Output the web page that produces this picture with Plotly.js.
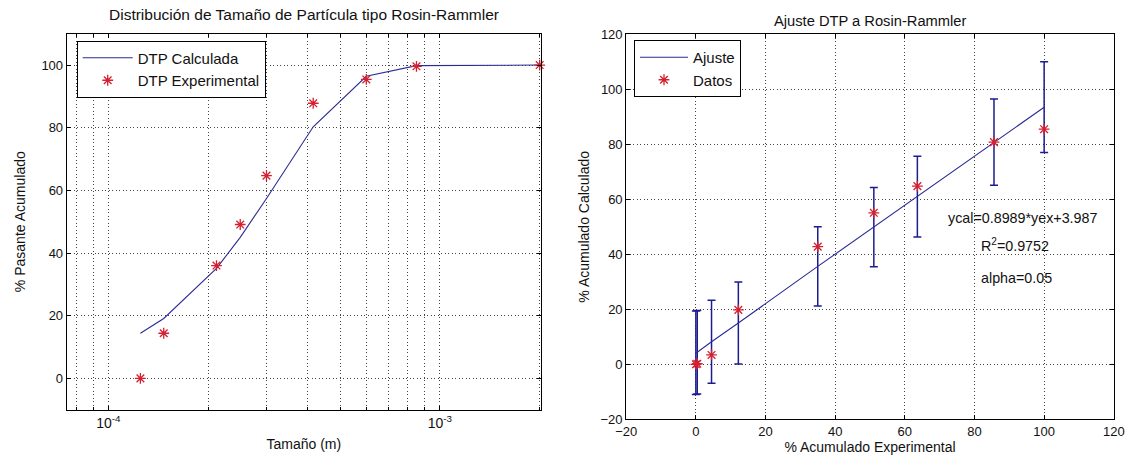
<!DOCTYPE html>
<html><head><meta charset="utf-8">
<script src="https://cdn.plot.ly/plotly-3.0.1.min.js"></script>
<style>html,body{margin:0;padding:0;background:#fff}#chart{width:1127px;height:463px}</style>
</head><body><div id="chart"></div>
<script>
// Left chart: particle size distribution
const tamano = [1.25e-4, 1.47e-4, 2.12e-4, 2.5e-4, 3.0e-4, 4.15e-4, 6.0e-4, 8.5e-4, 2.0e-3];
const pasanteCalc = [14.4, 19.1, 35.1, 45.0, 57.4, 80.3, 96.4, 99.8, 100];
const pasanteExp = [0, 14.4, 36.0, 49.1, 64.7, 87.8, 95.4, 99.6, 100];
const logTickVals = [1e-4, 1e-3];
const logTickText = ['10<sup>-4</sup>', '10<sup>-3</sup>'];
const logMinorVals = [8e-5, 9e-5, 2e-4, 3e-4, 4e-4, 5e-4, 6e-4, 7e-4, 8e-4, 9e-4, 2e-3];
const leftYTicks = [0, 20, 40, 60, 80, 100];

// Right chart: fit
const acumExp = [0, 0.4, 4.5, 12.2, 35.0, 51.1, 63.6, 85.6, 100];
const acumDatos = [0, 0.2, 3.4, 19.8, 42.8, 55.1, 64.8, 80.8, 85.5];
const acumAjuste = [4.2, 4.4, 8.2, 15.0, 35.6, 49.9, 61.0, 80.8, 93.5];
const errAjuste = [15.2, 15.2, 15.1, 14.9, 14.4, 14.4, 14.7, 15.7, 16.5];
const rightTicks = [-20, 0, 20, 40, 60, 80, 100, 120];

const FONT = 'Liberation Sans, Arial, Helvetica, sans-serif';
const LINE = '#2b2b95';
const STAR = '#d42030';
const ERR = '#1c1c90';
const GRID = '#444';
const DOT = '1px,2.5px';
const W = 1127, H = 463;

const traces = [
  {x: tamano, y: pasanteCalc, type: 'scatter', mode: 'lines', name: 'DTP Calculada',
   line: {color: LINE, width: 1.1}, xaxis: 'x', yaxis: 'y', legend: 'legend'},
  {x: tamano, y: pasanteExp, type: 'scatter', mode: 'markers', name: 'DTP Experimental',
   marker: {symbol: 'asterisk-open', size: 9, color: STAR, line: {color: STAR, width: 1.3}},
   cliponaxis: false, xaxis: 'x', yaxis: 'y', legend: 'legend'},
  {x: acumExp, y: acumAjuste, type: 'scatter', mode: 'markers', showlegend: false, hoverinfo: 'skip',
   marker: {size: 1, color: 'rgba(0,0,0,0)'},
   error_y: {type: 'data', array: errAjuste, symmetric: true, color: ERR, thickness: 1.5, width: 4},
   xaxis: 'x2', yaxis: 'y2'},
  {x: acumExp, y: acumAjuste, type: 'scatter', mode: 'lines', name: 'Ajuste',
   line: {color: LINE, width: 1.1}, xaxis: 'x2', yaxis: 'y2', legend: 'legend2'},
  {x: acumExp, y: acumDatos, type: 'scatter', mode: 'markers', name: 'Datos',
   marker: {symbol: 'asterisk-open', size: 9, color: STAR, line: {color: STAR, width: 1.3}},
   xaxis: 'x2', yaxis: 'y2', legend: 'legend2'}
];

const axBase = {
  showline: true, linecolor: '#000', linewidth: 1, mirror: 'ticks',
  ticks: 'inside', ticklen: 4, tickcolor: '#000', tickwidth: 1,
  showgrid: true, gridcolor: GRID, gridwidth: 1, griddash: DOT,
  zeroline: false, tickfont: {family: FONT, size: 13, color: '#111'},
  fixedrange: true
};
const titleFont = {family: FONT, size: 14, color: '#111'};

const layout = {
  width: W, height: H,
  margin: {l: 0, r: 0, t: 0, b: 0},
  paper_bgcolor: '#fff', plot_bgcolor: '#fff',
  font: {family: FONT, size: 13, color: '#111'},
  xaxis: Object.assign({}, axBase, {
    type: 'log', domain: [66.7 / W, 541 / W],
    range: [-4.1254, -2.6950],
    tickmode: 'array', tickvals: logTickVals, ticktext: logTickText,
    tickfont: {family: FONT, size: 14, color: '#111'},
    minor: {tickmode: 'array', tickvals: logMinorVals, ticks: 'inside', ticklen: 3, tickcolor: '#000',
            showgrid: true, gridcolor: GRID, gridwidth: 1, griddash: DOT},
    title: {text: 'Tamaño (m)', font: titleFont, standoff: 9},
    anchor: 'y'
  }),
  yaxis: Object.assign({}, axBase, {
    domain: [1 - 409.7 / H, 1 - 33.7 / H], range: [-10, 110],
    tickmode: 'array', tickvals: leftYTicks,
    title: {text: '% Pasante Acumulado', font: titleFont, standoff: 12},
    anchor: 'x'
  }),
  xaxis2: Object.assign({}, axBase, {
    domain: [626.2 / W, 1113.8 / W], range: [-20, 120],
    tickmode: 'array', tickvals: rightTicks,
    title: {text: '% Acumulado Experimental', font: titleFont, standoff: 1},
    anchor: 'y2'
  }),
  yaxis2: Object.assign({}, axBase, {
    domain: [1 - 419.3 / H, 1 - 34.3 / H], range: [-20, 120],
    tickmode: 'array', tickvals: rightTicks,
    title: {text: '% Acumulado Calculado', font: titleFont, standoff: 7},
    anchor: 'x2'
  }),
  legend: {
    x: 76.7 / W, y: 1 - 40.5 / H, xanchor: 'left', yanchor: 'top',
    bgcolor: '#fff', bordercolor: '#000', borderwidth: 1, itemwidth: 50,
    font: {family: FONT, size: 15, color: '#111'}, tracegroupgap: 0
  },
  legend2: {
    x: 634 / W, y: 1 - 40 / H, xanchor: 'left', yanchor: 'top',
    bgcolor: '#fff', bordercolor: '#000', borderwidth: 1, itemwidth: 48,
    font: {family: FONT, size: 15, color: '#111'}, tracegroupgap: 0
  },
  annotations: [
    {text: 'Distribución de Tamaño de Partícula tipo Rosin-Rammler', xref: 'paper', yref: 'paper',
     x: 303.9 / W, y: 1 - 15 / H, xanchor: 'center', yanchor: 'middle', showarrow: false,
     font: {family: FONT, size: 15.5, color: '#111'}},
    {text: 'Ajuste DTP a Rosin-Rammler', xref: 'paper', yref: 'paper',
     x: 870 / W, y: 1 - 21 / H, xanchor: 'center', yanchor: 'middle', showarrow: false,
     font: {family: FONT, size: 14.7, color: '#111'}},
    {text: 'ycal=0.8989*yex+3.987', xref: 'x2', yref: 'y2', x: 71.8, y: 53.3,
     xanchor: 'left', yanchor: 'middle', showarrow: false, font: {family: FONT, size: 14.3, color: '#111'}},
    {text: 'R<sup>2</sup>=0.9752', xref: 'x2', yref: 'y2', x: 81.2, y: 43.4,
     xanchor: 'left', yanchor: 'middle', showarrow: false, font: {family: FONT, size: 14.3, color: '#111'}},
    {text: 'alpha=0.05', xref: 'x2', yref: 'y2', x: 81.2, y: 31.4,
     xanchor: 'left', yanchor: 'middle', showarrow: false, font: {family: FONT, size: 14.3, color: '#111'}}
  ]
};

Plotly.newPlot('chart', traces, layout, {displayModeBar: false, staticPlot: true});
</script>
</body></html>
